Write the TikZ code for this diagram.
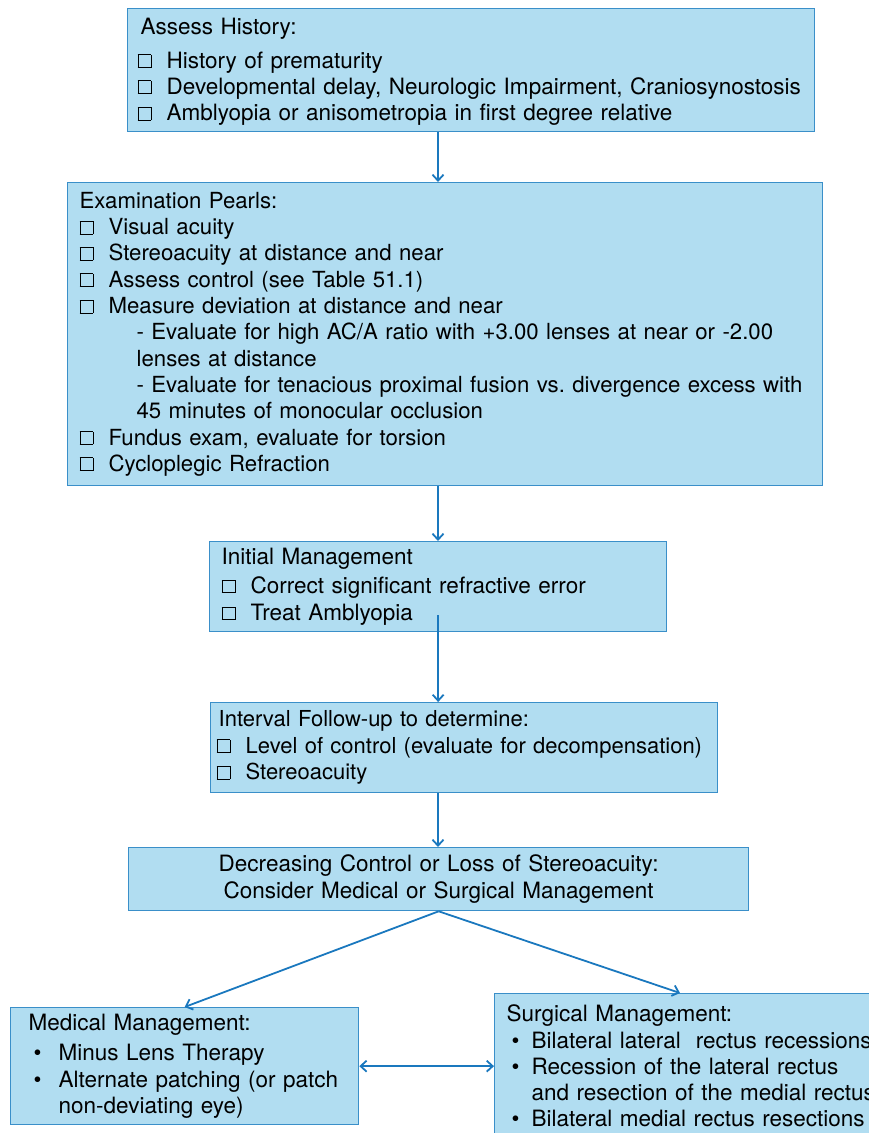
\documentclass[tikz,border=0pt]{standalone}
\usepackage{fontspec}
\setmainfont{TeX Gyre Heros}
\usepackage{tikz}
\usetikzlibrary{arrows.meta}
\definecolor{box_fill}{HTML}{B1DDF1}
\definecolor{box_line}{HTML}{3A8FC9}
\definecolor{arrow_blue}{HTML}{1A78BE}

% box text: size, line distance, no hyphenation
\newcommand{\boxfont}[2]{\fontsize{#1}{#2}\selectfont\hyphenpenalty=10000\relax}
% empty check box and bullet in front of the list items
\newcommand{\chk}{\makebox[29pt][l]{\raisebox{1pt}{\fboxsep=0pt\fboxrule=0.9pt\fbox{\rule{0pt}{12pt}\hspace{12pt}}}}}
\newcommand{\blt}[1][25pt]{\hspace*{5pt}\makebox[#1][l]{\textbullet}}
\frenchspacing

\begin{document}
\begin{tikzpicture}[x=1pt, y=-1pt,
    flowbox/.style={draw=box_line, fill=box_fill, line width=1.3pt, anchor=north west,
        align=left, inner ysep=0pt, font=\boxfont{22.5}{26.3}},
    flowarrow/.style={draw=arrow_blue, line width=1.8pt, -{Straight Barb[length=6pt,width=11pt]}}]

    \useasboundingbox (0, 0) rectangle (868, 1133);

    \node[flowbox, text width=667pt, inner xsep=10pt, minimum height=123pt] (hist) at (127, 8)
        {\rule{0pt}{20pt}\hspace*{3pt}Assess History:\\[7pt]
         \chk History of prematurity\\
         \chk Developmental delay, Neurologic Impairment, Craniosynostosis\\
         \chk Amblyopia or anisometropia in first degree relative};

    \node[flowbox, text width=731pt, inner xsep=12pt, minimum height=303pt,
        font=\boxfont{22.2}{26.3}] (exam) at (67, 182)
        {Examination Pearls:\\
         \chk Visual acuity\\
         \chk Stereoacuity at distance and near\\
         \chk Assess control (see Table 51.1)\\
         \chk Measure deviation at distance and near\\
         \hspace*{57pt}- Evaluate for high AC/A ratio with +3.00 lenses at near or -2.00\\
         \hspace*{57pt}lenses at distance\\
         \hspace*{57pt}- Evaluate for tenacious proximal fusion vs. divergence excess with\\
         \hspace*{57pt}45 minutes of monocular occlusion\\
         \chk Fundus exam, evaluate for torsion\\
         \chk Cycloplegic Refraction};

    \node[flowbox, text width=433pt, inner xsep=12pt, minimum height=90pt,
        font=\boxfont{22.5}{27}] (init) at (209, 541)
        {Initial Management\\[2pt]
         \chk Correct significant refractive error\\
         \chk Treat Amblyopia};

    \node[flowbox, text width=495pt, inner xsep=6pt, minimum height=90pt,
        font=\boxfont{22}{26.5}] (follow) at (210, 702)
        {\hspace*{2pt}Interval Follow-up to determine:\\
         \chk Level of control (evaluate for decompensation)\\
         \chk Stereoacuity};

    \node[flowbox, text width=600pt, inner xsep=10pt, minimum height=63pt, align=center] (decide) at (128, 847)
        {Decreasing Control or Loss of Stereoacuity:\\
         Consider Medical or Surgical Management};

    \node[flowbox, text width=312pt, inner xsep=18pt, minimum height=117pt] (med) at (10, 1007)
        {Medical Management:\\[4pt]
         \blt Minus Lens Therapy\\
         \blt Alternate patching (or patch\\
         \hspace*{30pt}non-deviating eye)};

    % runs off the right and bottom edge of the page
    \node[flowbox, text width=396pt, inner xsep=12pt, minimum height=145pt] (surg) at (494, 993)
        {Surgical Management:\\
         \blt[20pt]Bilateral lateral~ rectus recessions\\
         \blt[20pt]Recession of the lateral rectus\\
         \hspace*{25pt}and resection of the medial rectus\\
         \blt[20pt]Bilateral medial rectus resections};

    \coordinate (spine) at (438, 0);
    \draw[flowarrow] (hist.south -| spine) -- (exam.north -| spine);
    \draw[flowarrow] (exam.south -| spine) -- (init.north -| spine);
    \draw[flowarrow] ([yshift=17pt]init.south) -- (init.south |- follow.north);
    \draw[flowarrow] (follow.south -| spine) -- (decide.north -| spine);
    \draw[flowarrow] (decide.south) -- (med.north);
    \draw[flowarrow] (decide.south) -- ([xshift=186pt]surg.north west);
    \draw[flowarrow, {Straight Barb[length=6pt,width=11pt]}-{Straight Barb[length=6pt,width=11pt]}] (med.east) -- (surg.west);

\end{tikzpicture}
\end{document}
